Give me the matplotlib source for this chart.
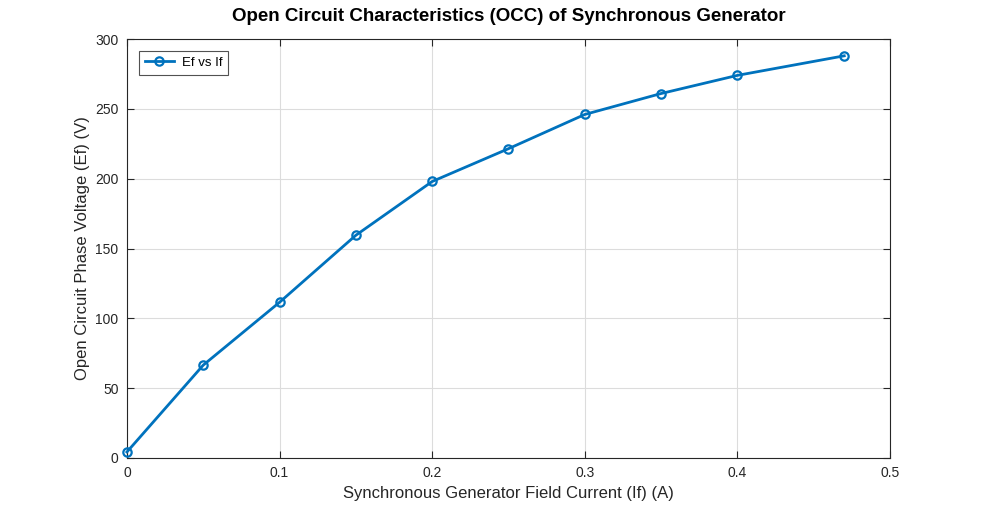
import matplotlib
matplotlib.use('Agg')
import matplotlib.pyplot as plt

# field current (A) and open circuit phase voltage (V)
field_current = [0.0, 0.05, 0.10, 0.15, 0.20, 0.25, 0.30, 0.35, 0.40, 0.47]
phase_voltage = [4.3, 66.5, 111.5, 159.5, 198.0, 221.5, 246.0, 261.0, 274.0, 288.0]

x_ticks = [0, 0.1, 0.2, 0.3, 0.4, 0.5]
x_tick_labels = ['0', '0.1', '0.2', '0.3', '0.4', '0.5']
y_ticks = [0, 50, 100, 150, 200, 250, 300]

plt.rcParams['font.family'] = ['Liberation Sans', 'DejaVu Sans']

fig = plt.figure(figsize=(9.84, 5.14), dpi=100)
ax = fig.add_axes([0.129, 0.109, 0.7755, 0.815])

ax.plot(field_current, phase_voltage, color='#0072BD', linewidth=2,
        marker='o', markersize=6, markerfacecolor='none',
        markeredgewidth=1.6, label='Ef vs If', clip_on=False, zorder=3)

ax.set_xlim(0, 0.5)
ax.set_ylim(0, 300)
ax.set_xticks(x_ticks)
ax.set_xticklabels(x_tick_labels)
ax.set_yticks(y_ticks)
ax.tick_params(direction='in', top=True, right=True, length=5,
               labelsize=10, colors='#262626', pad=6)
ax.grid(True, color='#dcdcdc', linewidth=0.8)
ax.set_axisbelow(True)
for sp in ax.spines.values():
    sp.set_color('#262626')
    sp.set_linewidth(0.8)

ax.set_title('Open Circuit Characteristics (OCC) of Synchronous Generator',
             fontsize=13.5, fontweight='bold', pad=13)
ax.set_xlabel('Synchronous Generator Field Current (If) (A)', fontsize=12,
              color='#262626')
ax.set_ylabel('Open Circuit Phase Voltage (Ef) (V)', fontsize=12,
              color='#262626')

leg = ax.legend(loc='upper left', fontsize=9.5, fancybox=False,
                edgecolor='#262626', borderaxespad=0.9, handlelength=2.2,
                borderpad=0.45, handletextpad=0.6)
leg.get_frame().set_linewidth(0.8)

fig.savefig('out.png', dpi=100)
plt.close(fig)
